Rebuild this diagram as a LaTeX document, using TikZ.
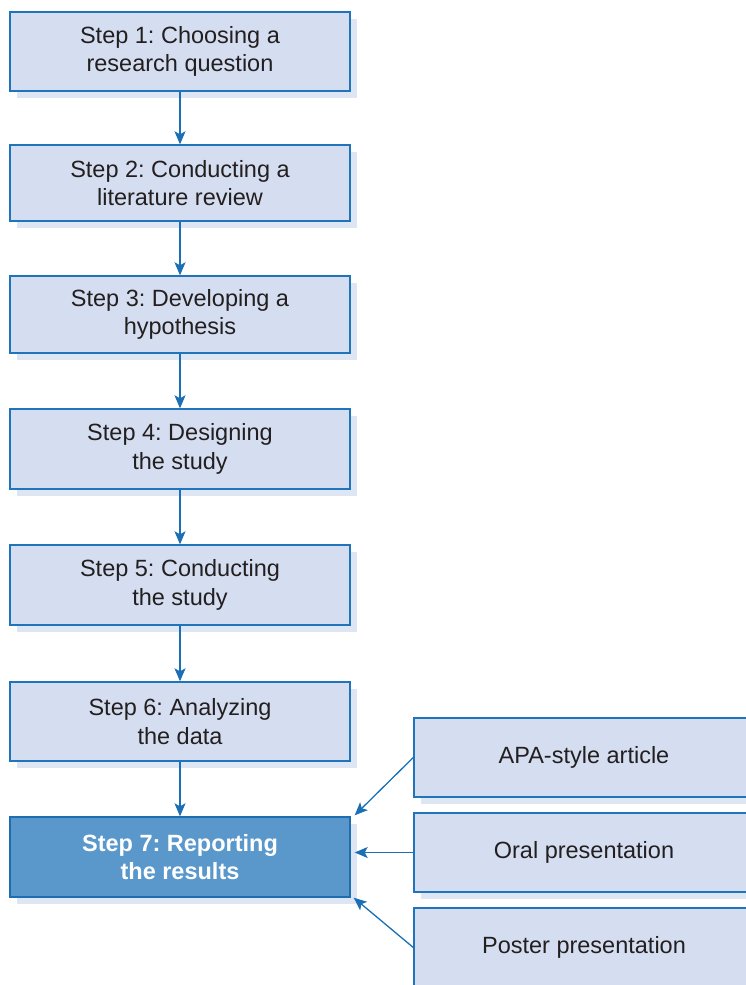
\documentclass[tikz,border=0pt]{standalone}
\usepackage{fontspec}
\setmainfont{Liberation Sans}
\frenchspacing
\usetikzlibrary{shadows,calc,arrows.meta}
\definecolor{boxfill}{HTML}{D5DEF0}
\definecolor{boxline}{HTML}{1F74BB}
\definecolor{shadowc}{HTML}{DFE6F3}
\definecolor{darkfill}{HTML}{5A98CC}
\definecolor{darkline}{HTML}{1E6DB3}
\definecolor{txt}{HTML}{231F20}
\definecolor{arrc}{HTML}{1A6FB5}
\tikzset{
  stepbox/.style={draw=boxline, line width=1.4pt, fill=boxfill, text=txt,
    minimum width=340pt, inner sep=0pt, align=center,
    font=\fontsize{23.5}{28.5}\selectfont,
    drop shadow={shadow xshift=7pt, shadow yshift=-7pt, fill=shadowc, opacity=1}},
  finalbox/.style={stepbox, fill=darkfill, draw=darkline, text=white,
    font=\fontsize{23.5}{28.5}\selectfont\bfseries},
  arr/.style={draw=arrc, line width=1.3pt, -{Stealth[length=13pt,width=11pt,inset=3pt]}}
}
\begin{document}
\begin{tikzpicture}[x=1pt,y=-1pt]
\path[use as bounding box] (0,0) rectangle (746,985);
\clip (0,0) rectangle (746,985);
\node[stepbox, minimum height=79pt] (s1) at (180,51.5) {Step 1: Choosing a\\research question};
\node[stepbox, minimum height=76pt] (s2) at (180,183) {Step 2: Conducting a\\literature review};
\node[stepbox, minimum height=77pt] (s3) at (180,314.5) {Step 3: Developing a\\hypothesis};
\node[stepbox, minimum height=80pt] (s4) at (180,449) {Step 4: Designing\\the study};
\node[stepbox, minimum height=80pt] (s5) at (180,585) {Step 5: Conducting\\the study};
\node[stepbox, minimum height=79pt] (s6) at (180,721.5) {Step 6: Analyzing\\the data};
\node[finalbox, minimum height=80pt] (s7) at (180,857) {Step 7: Reporting\\the results};
\node[stepbox, minimum height=79pt] (apa) at (584,757.5) {APA-style article};
\node[stepbox, minimum height=79pt] (oral) at (584,852.5) {Oral presentation};
\node[stepbox, minimum height=79pt] (poster) at (584,947.5) {Poster presentation};
\draw[arr] (s1) -- (s2);
\draw[arr] (s2) -- (s3);
\draw[arr] (s3) -- (s4);
\draw[arr] (s4) -- (s5);
\draw[arr] (s5) -- (s6);
\draw[arr] (s6) -- (s7);
\coordinate (t1) at ($(s7.north east)+(4,-1)$);
\coordinate (t2) at ($(s7.east |- oral.west)+(4,0)$);
\coordinate (t3) at ($(s7.south east)+(3,0)$);
\draw[arr] (apa.west) -- (t1);
\draw[arr] (oral.west) -- (t2);
\draw[arr] (poster.west) -- (t3);
\end{tikzpicture}
\end{document}
